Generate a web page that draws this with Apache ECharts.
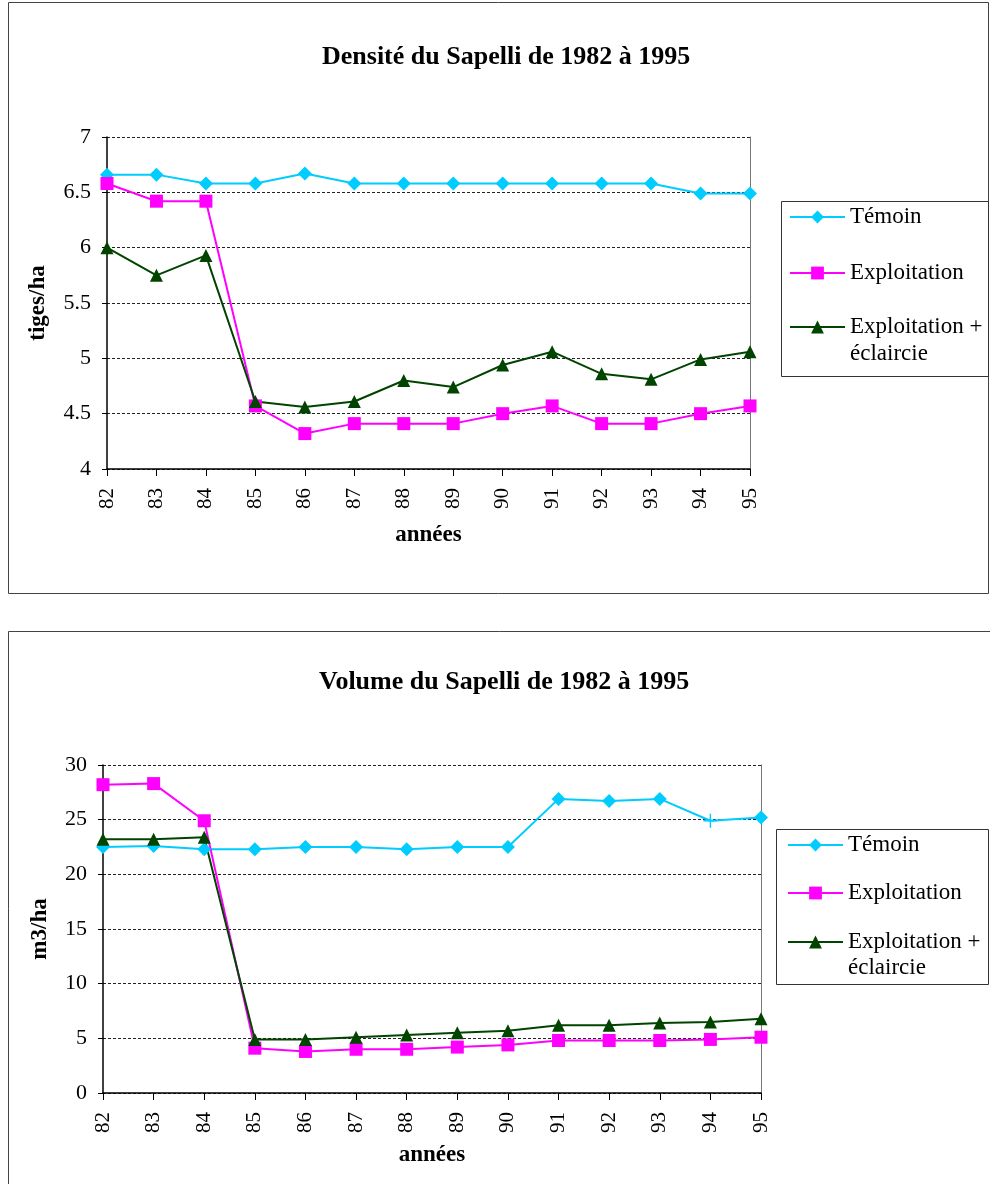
<!DOCTYPE html>
<html>
<head>
<meta charset="utf-8">
<script src="https://cdn.jsdelivr.net/npm/echarts@6/dist/echarts.min.js"></script>
<style>
html,body{margin:0;padding:0;background:#fff;}
#chart{width:990px;height:1184px;}
</style>
</head>
<body>
<div id="chart"></div>
<script>
// ---- data ----
const years = ['82','83','84','85','86','87','88','89','90','91','92','93','94','95'];
const seriesNames = ['Témoin', 'Exploitation', 'Exploitation + éclaircie'];

const densTemoin = [6.66, 6.66, 6.58, 6.58, 6.67, 6.58, 6.58, 6.58, 6.58, 6.58, 6.58, 6.58, 6.49, 6.49];
const densExploit = [6.58, 6.42, 6.42, 4.57, 4.32, 4.41, 4.41, 4.41, 4.50, 4.57, 4.41, 4.41, 4.50, 4.57];
const densEclair = [6.00, 5.75, 5.93, 4.61, 4.56, 4.61, 4.80, 4.74, 4.94, 5.06, 4.86, 4.81, 4.99, 5.06];

const volTemoin = [22.5, 22.6, 22.3, 22.3, 22.5, 22.5, 22.3, 22.5, 22.5, 26.9, 26.7, 26.9, 24.9, 25.2];
const volExploit = [28.2, 28.3, 24.9, 4.1, 3.8, 4.0, 4.0, 4.2, 4.4, 4.8, 4.8, 4.8, 4.9, 5.1];
const volEclair = [23.2, 23.2, 23.4, 4.9, 4.9, 5.1, 5.3, 5.5, 5.7, 6.2, 6.2, 6.4, 6.5, 6.8];

const densTicks = [4, 7, 0.5];   // min, max, step
const volTicks = [0, 30, 5];

// ---- styles ----
const FONT = 'Liberation Serif';
const C_TEM = '#00CCFF', C_EXP = '#FF00FF', C_ECL = '#004400';
const plusPath = 'path://M5.4,0H6.6V5.4H12V6.6H6.6V12H5.4V6.6H0V5.4H5.4Z';

function mkSeries(name, data, color, symbol, size, gi) {
  return {
    name: name, type: 'line', xAxisIndex: gi, yAxisIndex: gi * 2,
    data: data, symbol: symbol, symbolSize: size,
    lineStyle: {color: color, width: 2},
    itemStyle: {color: color},
    emphasis: {disabled: true}, animation: false
  };
}

function xAx(gi, gap) {
  return {
    type: 'category', gridIndex: gi, data: years, boundaryGap: false,
    name: 'années', nameLocation: 'middle', nameGap: gap,
    nameTextStyle: {fontFamily: FONT, fontWeight: 'bold', fontSize: 23, color: '#000'},
    axisLine: {lineStyle: {color: '#000', width: 1.5}},
    axisTick: {show: true, length: 7, lineStyle: {color: '#000'}},
    axisLabel: {rotate: 90, margin: 19, fontFamily: FONT, fontSize: 21, color: '#000', interval: 0},
    splitLine: {show: false}
  };
}
function yAx(gi, t, name, gap) {
  return {
    type: 'value', gridIndex: gi, min: t[0], max: t[1], interval: t[2],
    name: name, nameLocation: 'middle', nameGap: gap,
    nameTextStyle: {fontFamily: FONT, fontWeight: 'bold', fontSize: 23, color: '#000'},
    axisLine: {show: true, lineStyle: {color: '#000', width: 1.5}},
    axisTick: {show: true, length: 5, lineStyle: {color: '#000'}},
    axisLabel: {margin: 16, fontFamily: FONT, fontSize: 22, color: '#000'},
    splitLine: {show: true, lineStyle: {color: '#222', width: 1, type: [3, 2]}}
  };
}
function yRight(gi, t) {
  return {
    type: 'value', gridIndex: gi, position: 'right', min: t[0], max: t[1], interval: t[2],
    axisLine: {show: true, lineStyle: {color: '#777', width: 1}},
    axisTick: {show: false}, axisLabel: {show: false}, splitLine: {show: false}
  };
}
function leg(name, left, top, lh) {
  return {
    data: [name], left: left, top: top, padding: 0, itemGap: 0,
    itemWidth: 55, itemHeight: 16, selectedMode: false,
    formatter: function (n) { return n === seriesNames[2] ? '\nExploitation +\néclaircie' : n; },
    textStyle: {fontFamily: FONT, fontSize: 23, color: '#000', lineHeight: lh}
  };
}

const temVol = volTemoin.map(function (v, i) { return i === 12 ? {value: v, symbol: plusPath} : v; });

const option = {
  backgroundColor: '#fff',
  animation: false,
  title: [
    {text: 'Densité du Sapelli de 1982 à 1995', left: 322, top: 44, padding: 0,
     textStyle: {fontFamily: FONT, fontWeight: 'bold', fontSize: 26, color: '#000', lineHeight: 26}},
    {text: 'Volume du Sapelli de 1982 à 1995', left: 319, top: 669, padding: 0,
     textStyle: {fontFamily: FONT, fontWeight: 'bold', fontSize: 26, color: '#000', lineHeight: 26}}
  ],
  grid: [
    {left: 107, right: 240, top: 137, bottom: 715},
    {left: 103, right: 229, top: 765, bottom: 91}
  ],
  xAxis: [xAx(0, 55), xAx(1, 51)],
  yAxis: [yAx(0, densTicks, 'tiges/ha', 57), yRight(0, densTicks),
          yAx(1, volTicks, 'm3/ha', 51), yRight(1, volTicks)],
  legend: [
    leg(seriesNames[0], 789, 203.5, 27),
    leg(seriesNames[1], 789, 259.5, 27),
    leg(seriesNames[2], 789, 286.5, 27),
    leg(seriesNames[0], 787, 832, 26),
    leg(seriesNames[1], 787, 880, 26),
    leg(seriesNames[2], 787, 903, 26)
  ],
  series: [
    mkSeries(seriesNames[0], densTemoin, C_TEM, 'diamond', 14, 0),
    mkSeries(seriesNames[1], densExploit, C_EXP, 'rect', 13, 0),
    mkSeries(seriesNames[2], densEclair, C_ECL, 'triangle', 13, 0),
    mkSeries(seriesNames[0], temVol, C_TEM, 'diamond', 14, 1),
    mkSeries(seriesNames[1], volExploit, C_EXP, 'rect', 13, 1),
    mkSeries(seriesNames[2], volEclair, C_ECL, 'triangle', 13, 1)
  ],
  graphic: [
    {type: 'rect', shape: {x: 8.5, y: 2.5, width: 980, height: 591}, style: {fill: 'none', stroke: '#444', lineWidth: 1}, silent: true},
    {type: 'rect', shape: {x: 8.5, y: 631.5, width: 1000, height: 600}, style: {fill: 'none', stroke: '#444', lineWidth: 1}, silent: true},
    {type: 'rect', shape: {x: 781.5, y: 201.5, width: 207, height: 175}, style: {fill: 'none', stroke: '#333', lineWidth: 1}, silent: true},
    {type: 'rect', shape: {x: 776.5, y: 829.5, width: 212, height: 155}, style: {fill: 'none', stroke: '#333', lineWidth: 1}, silent: true}
  ]
};

const chart = echarts.init(document.getElementById('chart'), null, {renderer: 'canvas'});
chart.setOption(option);
</script>
</body>
</html>
